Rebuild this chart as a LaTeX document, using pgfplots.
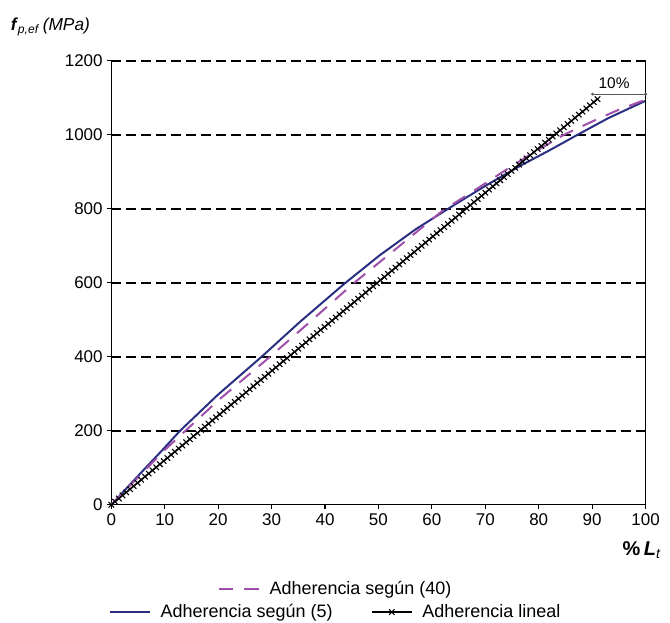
\documentclass[border=0pt]{standalone}
\usepackage{pgfplots}
\pgfplotsset{compat=1.18}
\usepackage{fontspec}
\setmainfont{Liberation Sans}
\usetikzlibrary{arrows.meta}
\definecolor{serblue}{RGB}{43,47,130}
\definecolor{serpink}{RGB}{160,80,170}

\pgfplotstableread{
x y
0 0
5 78
9.7 150
12.8 199
20 298
28.2 401
35.2 493
43.5 596
50.2 674
57 745
63.8 807
70 862
76.9 919
82 958
87 998
93 1045
100 1092
}\blueTable

\pgfplotstableread{
x y
0 0
10 148
13.8 199
20 282
29.7 400
37 492
45.3 598
55 712
62 795
68 850
73 897
78 943
84.7 1000
90 1036
95 1068
100 1095
}\pinkTable

\pgfplotstableread{
x y
0 0
0.7 8.4
1.4 16.9
2.1 25.3
2.8 33.7
3.5 42.2
4.2 50.6
4.9 59.0
5.6 67.5
6.3 75.9
7.0 84.4
7.7 92.8
8.4 101.2
9.1 109.7
9.8 118.1
10.5 126.5
11.2 135.0
11.9 143.4
12.6 151.8
13.3 160.3
14.0 168.7
14.7 177.1
15.4 185.6
16.1 194.0
16.8 202.4
17.5 210.9
18.2 219.3
18.9 227.7
19.6 236.2
20.3 244.6
21.0 253.1
21.7 261.5
22.4 269.9
23.1 278.4
23.8 286.8
24.5 295.2
25.2 303.7
25.9 312.1
26.6 320.5
27.3 329.0
28.0 337.4
28.7 345.8
29.4 354.3
30.1 362.7
30.8 371.1
31.5 379.6
32.2 388.0
32.9 396.4
33.6 404.9
34.3 413.3
35.0 421.8
35.7 430.2
36.4 438.6
37.1 447.1
37.8 455.5
38.5 463.9
39.2 472.4
39.9 480.8
40.6 489.2
41.3 497.7
42.0 506.1
42.7 514.5
43.4 523.0
44.1 531.4
44.8 539.8
45.5 548.3
46.2 556.7
46.9 565.1
47.6 573.6
48.3 582.0
49.0 590.5
49.7 598.9
50.4 607.3
51.1 615.8
51.8 624.2
52.5 632.6
53.2 641.1
53.9 649.5
54.6 657.9
55.3 666.4
56.0 674.8
56.7 683.2
57.4 691.7
58.1 700.1
58.8 708.5
59.5 717.0
60.2 725.4
60.9 733.8
61.6 742.3
62.3 750.7
63.0 759.2
63.7 767.6
64.4 776.0
65.1 784.5
65.8 792.9
66.5 801.3
67.2 809.8
67.9 818.2
68.6 826.6
69.3 835.1
70.0 843.5
70.7 851.9
71.4 860.4
72.1 868.8
72.8 877.2
73.5 885.7
74.2 894.1
74.9 902.5
75.6 911.0
76.3 919.4
77.0 927.9
77.7 936.3
78.4 944.7
79.1 953.2
79.8 961.6
80.5 970.0
81.2 978.5
81.9 986.9
82.6 995.3
83.3 1003.8
84.0 1012.2
84.7 1020.6
85.4 1029.1
86.1 1037.5
86.8 1045.9
87.5 1054.4
88.2 1062.8
88.9 1071.2
89.6 1079.7
90.3 1088.1
91.0 1096.6
}\linTable

\pgfplotsset{
  mylegend/.style={
    legend style={draw=none, fill=none, inner sep=0pt, outer sep=0pt,
      font=\fontsize{13.5}{16}\selectfont,
      nodes={inner sep=0pt},
      /tikz/every odd column/.append style={column sep=7.5pt},
      /tikz/every even column/.append style={column sep=29pt}},
    legend cell align=left,
    legend image code/.code={\draw[mark repeat=2,mark phase=2,##1] plot coordinates {(0pt,0pt) (15pt,0pt) (30pt,0pt)};},
  }
}

\begin{document}
\begin{tikzpicture}
\begin{axis}[
  scale only axis, width=401.25pt, height=333.4pt,
  xmin=0, xmax=100, ymin=0, ymax=1200,
  xtick={0,10,...,100}, ytick={0,200,...,1200},
  axis x line*=bottom, axis y line*=left,
  axis line style={-, black, line width=1.1pt},
  tick align=outside, major tick length=3pt,
  tick style={black, line width=0.9pt},
  ymajorgrids,
  grid style={black, line width=1.1pt, dash pattern=on 7.5pt off 3.75pt},
  /pgf/number format/assume math mode=true,
  /pgf/number format/1000 sep={},
  ticklabel style={font=\fontsize{12.75}{15}\selectfont},
  every axis y label/.style={at={(axis description cs:-0.197,1.068)}, anchor=base west},
  every axis x label/.style={at={(axis description cs:1.0378,-0.1152)}, anchor=base east},
  ylabel={\fontsize{13}{15}\selectfont\textbf{\textit{f}}\textsubscript{\textit{p,ef}}\,\textit{(MPa)}},
  xlabel={\fontsize{15}{17}\selectfont\textbf{\%}\,\textbf{\textit{L}}\textsubscript{\textit{t}}},
  clip=false,
  mylegend,
  legend columns=2,
  legend style={at={(axis description cs:-0.0047,-0.2418)}, anchor=west},
]
\addplot[serblue, line width=1.5pt, no markers] table[x=x,y=y] {\blueTable};
\addlegendentry{Adherencia según (5)}
\addplot[black, line width=1pt, mark=x, mark size=2.9pt, mark options={line width=0.8pt}] table[x=x,y=y] {\linTable};
\addlegendentry{Adherencia lineal}
\addplot[serpink, line width=1.5pt, dash pattern=on 11pt off 8pt, no markers, forget plot] table[x=x,y=y] {\pinkTable};
\draw[black, line width=1.1pt] (rel axis cs:1,0) -- (rel axis cs:1,1);
\draw[gray!70!black, line width=0.6pt, {Circle[length=2pt]}-{Circle[length=2pt]}] (axis cs:89.8,1110) -- (axis cs:100.3,1110);
\node[anchor=base, font=\fontsize{11.6}{13}\selectfont] at (axis cs:94.1,1124) {10\%};
\end{axis}
\begin{axis}[
  scale only axis, width=401.25pt, height=333.4pt,
  xmin=0, xmax=1, ymin=0, ymax=1, hide axis,
  mylegend,
  legend style={at={(axis description cs:0.199,-0.190)}, anchor=west},
]
\addlegendimage{serpink, line width=1.5pt, dash pattern=on 11pt off 8pt}
\addlegendentry{Adherencia según (40)}
\end{axis}
\pgfresetboundingbox
\path[use as bounding box] (-83.6pt,-88.1pt) rectangle (419.6pt,379.1pt);
\end{tikzpicture}
\end{document}
